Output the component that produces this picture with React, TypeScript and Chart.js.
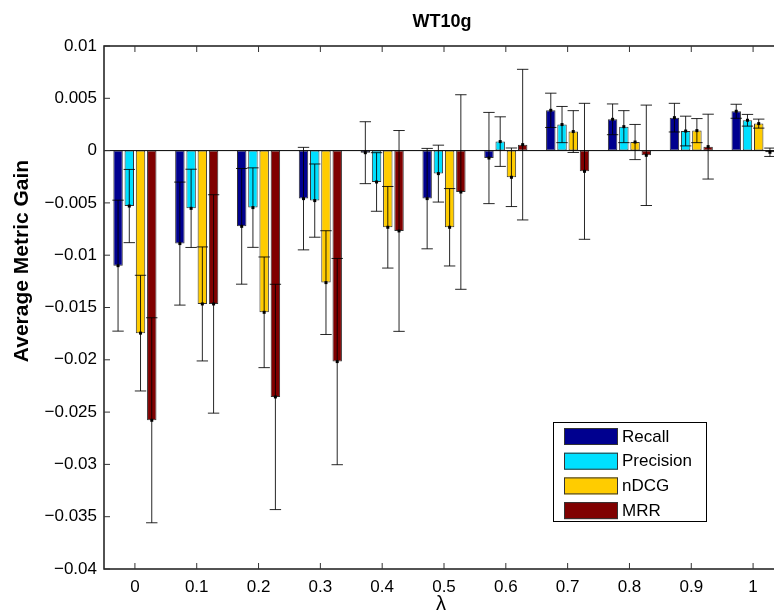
import React, { useEffect, useRef } from "react";
import { Chart, registerables } from "chart.js";

Chart.register(...registerables);

const CATEGORIES = [0, 0.1, 0.2, 0.3, 0.4, 0.5, 0.6, 0.7, 0.8, 0.9, 1];
const TICK_LABELS = ["0", "0.1", "0.2", "0.3", "0.4", "0.5", "0.6", "0.7", "0.8", "0.9", "1"];
const SERIES_NAMES = ["Recall", "Precision", "nDCG", "MRR"];

const RECALL = [-0.011, -0.00889, -0.00724, -0.00459, -0.0002, -0.00459, -0.00071, 0.00385, 0.00299, 0.00315, 0.00376];
const RECALL_ERR = [0.00626, 0.00588, 0.00553, 0.0049, 0.00296, 0.0048, 0.00436, 0.00164, 0.00147, 0.00137, 0.00067];
const PRECISION = [-0.0053, -0.00552, -0.00545, -0.00478, -0.003, -0.0022, 0.00086, 0.00249, 0.00229, 0.00187, 0.0029];
const PRECISION_ERR = [0.0035, 0.00374, 0.0038, 0.0035, 0.0028, 0.00272, 0.00237, 0.00173, 0.00153, 0.00142, 0.00056];
const NDCG = [-0.01745, -0.01466, -0.01546, -0.01262, -0.00733, -0.00733, -0.00255, 0.00182, 0.00082, 0.00191, 0.00258];
const NDCG_ERR = [0.00553, 0.00545, 0.00529, 0.00496, 0.0039, 0.0037, 0.0028, 0.002, 0.00168, 0.00115, 0.00043];
const MRR = [-0.02578, -0.01466, -0.02355, -0.02017, -0.00768, -0.00396, 0.00057, -0.00198, -0.00045, 0.00038, -0.00016];
const MRR_ERR = [0.0098, 0.01044, 0.01077, 0.00986, 0.0096, 0.0093, 0.0072, 0.0065, 0.0048, 0.0031, 0.0004];

const COLORS = ["#00008f", "#00e0ff", "#ffcc00", "#800000"];
const Y_TICKS = [0.01, 0.005, 0, -0.005, -0.01, -0.015, -0.02, -0.025, -0.03, -0.035, -0.04];

const FONT = "'Liberation Sans', Arial, Helvetica, sans-serif";

function fmt(v: number): string {
  const r = Math.round(v * 1000) / 1000;
  const s = String(Math.abs(r));
  return r < 0 ? "\u2212" + s : s;
}

const decorPlugin = {
  id: "decor",
  afterDatasetsDraw(chart: any) {
    const ctx = chart.ctx as CanvasRenderingContext2D;
    const area = chart.chartArea;
    const xs = chart.scales.x;
    const ys = chart.scales.y;
    const errs = chart.options.plugins.decor.errors as number[][];
    ctx.save();

    // baseline
    ctx.strokeStyle = "#000";
    ctx.lineWidth = 1;
    const y0 = ys.getPixelForValue(0);
    ctx.beginPath();
    ctx.moveTo(area.left, y0);
    ctx.lineTo(area.right, y0);
    ctx.stroke();

    // error bars
    chart.data.datasets.forEach((ds: any, di: number) => {
      const meta = chart.getDatasetMeta(di);
      meta.data.forEach((bar: any, i: number) => {
        const v = ds.data[i].y;
        const e = errs[di][i];
        const x = bar.x;
        const yt = ys.getPixelForValue(v + e);
        const yb = ys.getPixelForValue(v - e);
        const yc = ys.getPixelForValue(v);
        ctx.strokeStyle = "rgba(0,0,0,0.85)";
        ctx.lineWidth = 1;
        ctx.beginPath();
        ctx.moveTo(x, yt);
        ctx.lineTo(x, yb);
        ctx.moveTo(x - 5.7, yt);
        ctx.lineTo(x + 5.7, yt);
        ctx.moveTo(x - 5.7, yb);
        ctx.lineTo(x + 5.7, yb);
        ctx.stroke();
        ctx.fillStyle = "#000";
        ctx.fillRect(x - 1.5, yc - 1.5, 3, 3);
      });
    });

    // frame
    ctx.strokeStyle = "#1a1a1a";
    ctx.lineWidth = 1.5;
    ctx.strokeRect(area.left, area.top, area.right - area.left, area.bottom - area.top);

    // ticks inward
    ctx.lineWidth = 1;
    ctx.strokeStyle = "#333";
    ctx.beginPath();
    CATEGORIES.forEach((c) => {
      const px = xs.getPixelForValue(c);
      ctx.moveTo(px, area.bottom);
      ctx.lineTo(px, area.bottom - 6);
      ctx.moveTo(px, area.top);
      ctx.lineTo(px, area.top + 6);
    });
    Y_TICKS.forEach((t) => {
      const py = ys.getPixelForValue(t);
      ctx.moveTo(area.left, py);
      ctx.lineTo(area.left + 6, py);
      ctx.moveTo(area.right, py);
      ctx.lineTo(area.right - 6, py);
    });
    ctx.stroke();

    // legend
    const lx = 553, ly = 422, lw = 153, lh = 99;
    ctx.fillStyle = "#fff";
    ctx.fillRect(lx, ly, lw, lh);
    ctx.strokeStyle = "#000";
    ctx.lineWidth = 1;
    ctx.strokeRect(lx + 0.5, ly + 0.5, lw, lh);
    ctx.font = `17px ${FONT}`;
    ctx.textBaseline = "middle";
    ctx.textAlign = "left";
    chart.data.datasets.forEach((ds: any, di: number) => {
      const ry = 428 + di * 24.7;
      ctx.fillStyle = ds.backgroundColor;
      ctx.fillRect(564, ry, 54, 17);
      ctx.strokeStyle = "#333";
      ctx.strokeRect(564.5, ry + 0.5, 53, 16);
      ctx.fillStyle = "#000";
      ctx.fillText(ds.label, 622, ry + 9);
    });

    // titles
    ctx.fillStyle = "#000";
    ctx.textAlign = "center";
    ctx.font = `bold 18px ${FONT}`;
    ctx.fillText("WT10g", 442, 22);
    ctx.font = `20px ${FONT}`;
    ctx.fillText("\u03bb", 441, 604);
    ctx.save();
    ctx.translate(22, 261);
    ctx.rotate(-Math.PI / 2);
    ctx.font = `bold 21px ${FONT}`;
    ctx.fillText("Average Metric Gain", 0, 0);
    ctx.restore();

    ctx.restore();
  },
};

export default function App() {
  const ref = useRef<HTMLCanvasElement | null>(null);
  useEffect(() => {
    if (!ref.current) return;
    const series = [RECALL, PRECISION, NDCG, MRR];
    const chart = new Chart(ref.current, {
      type: "bar",
      data: {
        datasets: series.map((s, di) => ({
          label: SERIES_NAMES[di],
          data: CATEGORIES.map((c, i) => ({ x: c, y: s[i] })),
          backgroundColor: COLORS[di],
          borderColor: "rgba(0,0,0,0.8)",
          borderWidth: 1,
          borderSkipped: false,
          categoryPercentage: 0.727,
          barPercentage: 0.84,
        })),
      },
      options: {
        animation: false,
        responsive: false,
        devicePixelRatio: 1,
        layout: { padding: { top: 46, right: 16, left: 0, bottom: 0 } },
        plugins: {
          legend: { display: false },
          tooltip: { enabled: false },
          title: { display: false },
          decor: { errors: [RECALL_ERR, PRECISION_ERR, NDCG_ERR, MRR_ERR] },
        } as any,
        scales: {
          x: {
            type: "linear",
            min: -0.05,
            max: 1.05,
            offset: false,
            grid: { display: false, drawTicks: false, tickLength: 0 },
            border: { display: false },
            afterBuildTicks: (scale: any) => {
              scale.ticks = CATEGORIES.map((v) => ({ value: v }));
            },
            afterFit: (scale: any) => {
              scale.height = 46;
            },
            ticks: {
              autoSkip: false,
              maxRotation: 0,
              padding: 8,
              color: "#000",
              font: { family: FONT, size: 17 },
              callback: (v: any) => {
                const idx = CATEGORIES.findIndex((c) => Math.abs(c - v) < 1e-9);
                return idx >= 0 ? TICK_LABELS[idx] : "";
              },
            },
          },
          y: {
            type: "linear",
            min: -0.04,
            max: 0.01,
            grid: { display: false, drawTicks: false, tickLength: 0 },
            border: { display: false },
            afterBuildTicks: (scale: any) => {
              scale.ticks = Y_TICKS.map((v) => ({ value: v }));
            },
            afterFit: (scale: any) => {
              scale.width = 104;
            },
            ticks: {
              padding: 7,
              color: "#000",
              font: { family: FONT, size: 17 },
              callback: (v: any) => fmt(Number(v)),
            },
          },
        },
      },
      plugins: [decorPlugin],
    });
    return () => chart.destroy();
  }, []);
  return (
    <div style={{ position: "fixed", left: 0, top: 0, width: 774, height: 615, overflow: "hidden", background: "#fff" }}>
      <canvas ref={ref} width={800} height={615} style={{ display: "block" }} />
    </div>
  );
}
